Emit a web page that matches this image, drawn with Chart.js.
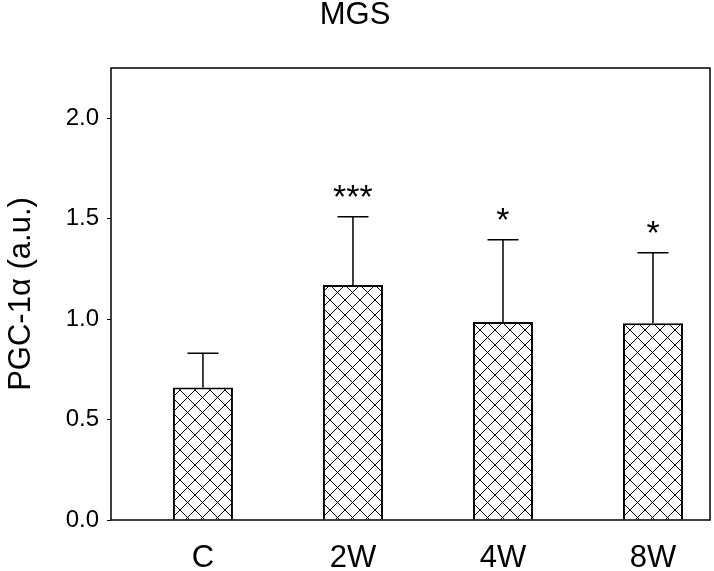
<!DOCTYPE html>
<html>
<head>
<meta charset="utf-8">
<script src="https://cdn.jsdelivr.net/npm/chart.js@4"></script>
<style>
    html, body { margin: 0; padding: 0; background: #fff; }
    #wrap { width: 714px; height: 571px; }
</style>
</head>
<body>
<div id="wrap"><canvas id="mgsChart" width="714" height="571"></canvas></div>
<script>
const categories = ['C', '2W', '4W', '8W'];
const means = [0.66, 1.17, 0.985, 0.98];
const errors = [0.17, 0.34, 0.41, 0.35];
const stars = ['', '***', '*', '*'];
const yTickValues = [0, 0.5, 1.0, 1.5, 2.0];

document.addEventListener('DOMContentLoaded', function () {
    const canvas = document.getElementById('mgsChart');
    const ctx = canvas.getContext('2d');

    // cross hatch for the bars
    const tile = document.createElement('canvas');
    tile.width = 15;
    tile.height = 15;
    const t = tile.getContext('2d');
    t.fillStyle = '#fff';
    t.fillRect(0, 0, 15, 15);
    t.strokeStyle = '#000';
    t.lineWidth = 1;
    t.beginPath();
    t.moveTo(-1, -1); t.lineTo(16, 16);
    t.moveTo(16, -1); t.lineTo(-1, 16);
    t.stroke();
    const hatch = ctx.createPattern(tile, 'repeat');

    const extras = {
        id: 'extras',
        afterDatasetsDraw(chart) {
            const c = chart.ctx;
            const xs = chart.scales.x;
            const ys = chart.scales.y;
            c.save();
            c.strokeStyle = '#000';
            c.fillStyle = '#000';
            c.lineWidth = 1.5;
            categories.forEach((cat, i) => {
                const x = xs.getPixelForValue(i + 1);
                const yBar = ys.getPixelForValue(means[i]);
                const yTop = ys.getPixelForValue(means[i] + errors[i]);
                c.beginPath();
                c.moveTo(x, yBar);
                c.lineTo(x, yTop);
                c.moveTo(x - 15.5, yTop);
                c.lineTo(x + 15.5, yTop);
                c.stroke();
                if (stars[i]) {
                    c.font = '34px "Liberation Sans", Arial, sans-serif';
                    c.textAlign = 'center';
                    c.textBaseline = 'alphabetic';
                    c.fillText(stars[i], x, yTop - 9);
                }
            });
            const a = chart.chartArea;
            c.lineWidth = 1.5;
            c.strokeRect(a.left, a.top, a.right - a.left, a.bottom - a.top);
            c.restore();
        }
    };

    new Chart(canvas, {
        type: 'bar',
        data: {
            datasets: [{
                label: 'PGC-1α',
                data: categories.map((c, i) => ({ x: i + 1, y: means[i] })),
                backgroundColor: hatch,
                borderColor: '#000',
                borderWidth: 2,
                borderSkipped: 'start',
                barPercentage: 0.4,
                categoryPercentage: 1.0
            }]
        },
        options: {
            responsive: false,
            animation: false,
            layout: { padding: { left: 0, right: 4, top: 0, bottom: 0 } },
            plugins: {
                legend: { display: false },
                tooltip: { enabled: false },
                title: {
                    display: true,
                    text: 'MGS',
                    color: '#000',
                    font: { family: '"Liberation Sans", Arial, sans-serif', size: 31, weight: 'normal', lineHeight: 1 },
                    padding: { top: 0, bottom: 37 }
                }
            },
            scales: {
                x: {
                    type: 'linear',
                    min: 0.387,
                    max: 4.38,
                    offset: false,
                    afterBuildTicks: (scale) => {
                        scale.ticks = categories.map((c, i) => ({ value: i + 1 }));
                    },
                    afterFit: (scale) => { scale.height = 51; },
                    grid: { display: false, drawTicks: false },
                    border: { display: false },
                    ticks: {
                        color: '#000',
                        padding: 20,
                        maxRotation: 0,
                        autoSkip: false,
                        font: { family: '"Liberation Sans", Arial, sans-serif', size: 31 },
                        callback: (value) => categories[value - 1]
                    }
                },
                y: {
                    min: 0,
                    max: 2.25,
                    afterBuildTicks: (scale) => {
                        scale.ticks = yTickValues.map(v => ({ value: v }));
                    },
                    afterFit: (scale) => { scale.width = 111; },
                    grid: { drawOnChartArea: false, drawTicks: true, tickLength: 4, color: '#000' },
                    border: { display: false },
                    ticks: {
                        color: '#000',
                        padding: 8,
                        font: { family: '"Liberation Sans", Arial, sans-serif', size: 24 },
                        callback: (value) => value.toFixed(1)
                    },
                    title: {
                        display: true,
                        text: 'PGC-1α (a.u.)',
                        color: '#000',
                        padding: { top: 3, bottom: 0 },
                        font: { family: '"Liberation Sans", Arial, sans-serif', size: 31 }
                    }
                }
            }
        },
        plugins: [extras]
    });
});
</script>
</body>
</html>
